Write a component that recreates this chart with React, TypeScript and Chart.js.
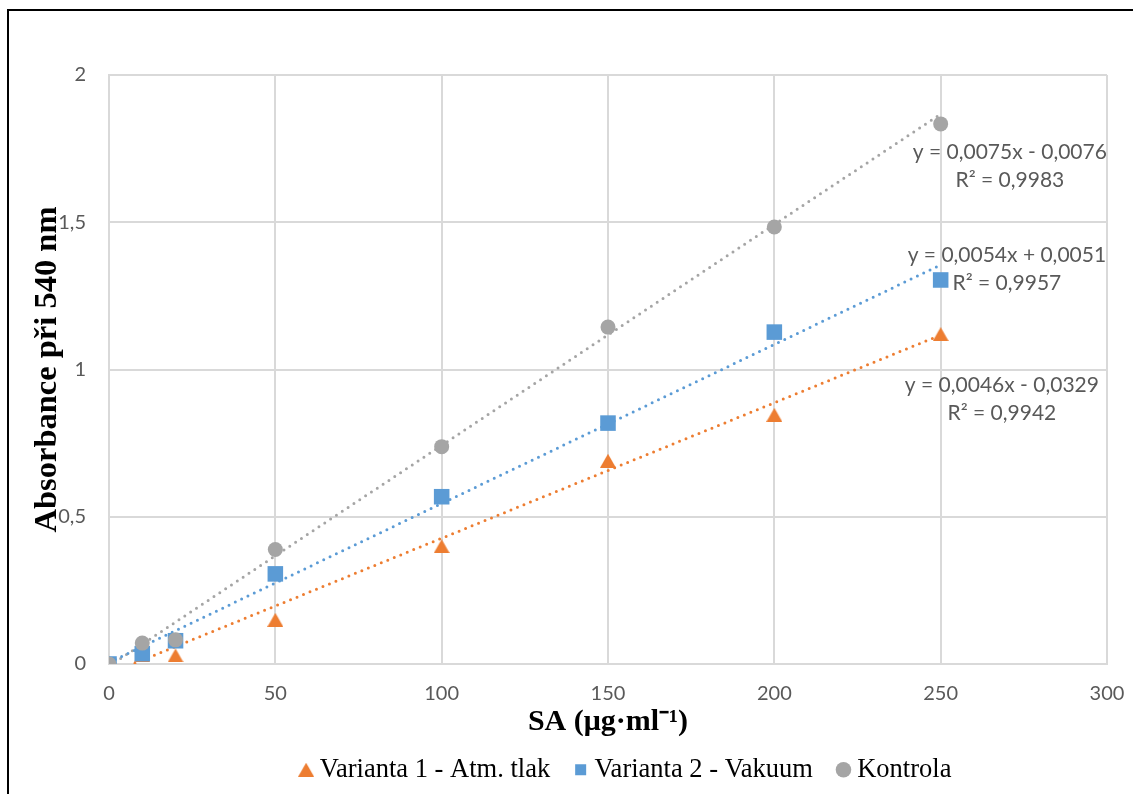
import React, { useEffect, useRef } from 'react';
import { Chart, registerables } from 'chart.js';

Chart.register(...registerables);

// ---- data ----
const concentrations = [0, 10, 20, 50, 100, 150, 200, 250];
const varianta1 = [0, 0.03, 0.029, 0.15, 0.4, 0.69, 0.846, 1.12];
const varianta2 = [0, 0.035, 0.079, 0.306, 0.568, 0.818, 1.127, 1.304];
const kontrola = [0, 0.071, 0.082, 0.389, 0.738, 1.144, 1.484, 1.834];

const seriesNames = ['Varianta 1 - Atm. tlak', 'Varianta 2 - Vakuum', 'Kontrola'];
const seriesColors = ['#ED7D31', '#5B9BD5', '#A5A5A5'];

const trendSlopes = [0.0046, 0.0054, 0.0075];
const trendIntercepts = [-0.0329, 0.0051, -0.0076];
const trendRange = [0, 250];
const trendEquations = ['y = 0,0046x - 0,0329', 'y = 0,0054x + 0,0051', 'y = 0,0075x - 0,0076'];
const trendR2 = ['R² = 0,9942', 'R² = 0,9957', 'R² = 0,9983'];
// label anchors in data units (x, y of the equation line)
const labelAnchorX = [268.4, 269.9, 270.8];
const labelAnchorY = [0.947, 1.389, 1.739];

const xTitle = 'SA (μg·ml⁻¹)';
const yTitle = 'Absorbance při 540 nm';

const TICK_FONT = { family: 'Lato', size: 20 };
const TEXT_GREY = '#595959';
const GRID = '#D9D9D9';

function makeTriangle(color: string, w: number, h: number) {
  const c = document.createElement('canvas');
  c.width = w;
  c.height = h;
  const g = c.getContext('2d')!;
  g.fillStyle = color;
  g.beginPath();
  g.moveTo(w / 2, 0);
  g.lineTo(w, h);
  g.lineTo(0, h);
  g.closePath();
  g.fill();
  return c;
}

const trendLabelPlugin = {
  id: 'trendLabels',
  afterDatasetsDraw(chart: any) {
    const { ctx } = chart;
    const x = chart.scales.x;
    const y = chart.scales.y;
    ctx.save();
    ctx.font = '21px Lato';
    ctx.fillStyle = TEXT_GREY;
    ctx.textAlign = 'center';
    ctx.textBaseline = 'middle';
    for (let i = 0; i < trendEquations.length; i++) {
      const px = x.getPixelForValue(labelAnchorX[i]);
      const py = y.getPixelForValue(labelAnchorY[i]);
      ctx.fillText(trendEquations[i], px, py);
      ctx.fillText(trendR2[i], px, py + 28);
    }
    ctx.restore();
  },
};

const legendShiftPlugin = {
  id: 'legendShift',
  afterLayout(chart: any) {
    const lg = chart.legend;
    if (lg) {
      lg.left = 0;
      lg.right = 1257;
      lg.width = 1257;
    }
  },
};

export default function App() {
  const ref = useRef<HTMLCanvasElement | null>(null);

  useEffect(() => {
    if (!ref.current) return;
    const tri = makeTriangle(seriesColors[0], 16, 14);
    const styles: any[] = [tri, 'rect', 'circle'];
    const radii = [8, 11, 7.5];
    const values = [varianta1, varianta2, kontrola];
    const orders = [3, 2, 1];

    const pointSets: any[] = values.map((vals, i) => ({
      label: seriesNames[i],
      data: concentrations.map((c, j) => ({ x: c, y: vals[j] })),
      pointStyle: styles[i],
      pointRadius: radii[i],
      pointHoverRadius: radii[i],
      backgroundColor: seriesColors[i],
      borderColor: seriesColors[i],
      pointBorderWidth: 0,
      borderWidth: 0,
      showLine: false,
      order: orders[i],
    }));

    const trendSets: any[] = trendSlopes.map((m, i) => ({
      label: 'trend' + i,
      data: trendRange.map((xv) => ({ x: xv, y: m * xv + trendIntercepts[i] })),
      showLine: true,
      pointRadius: 0,
      pointHoverRadius: 0,
      borderColor: seriesColors[i],
      backgroundColor: seriesColors[i],
      borderWidth: 3,
      borderDash: [0, 7],
      borderCapStyle: 'round',
      fill: false,
      order: 10 + i,
    }));

    const chart = new Chart(ref.current, {
      type: 'scatter',
      data: { datasets: [...pointSets, ...trendSets] },
      options: {
        responsive: false,
        animation: false,
        events: [],
        layout: { padding: { left: 24, top: 75, right: 26, bottom: 1 } },
        scales: {
          x: {
            type: 'linear',
            min: 0,
            max: 300,
            ticks: { stepSize: 50, font: TICK_FONT, color: TEXT_GREY, padding: 2 },
            grid: {
              color: GRID,
              lineWidth: 2,
              drawTicks: true,
              tickLength: 16,
              tickColor: 'rgba(0,0,0,0)',
            },
            border: { color: GRID, width: 2 },
            title: {
              display: true,
              text: xTitle,
              color: '#000',
              font: { family: 'Liberation Serif', size: 30, weight: 'bold' },
              padding: { top: 0, bottom: -13.5 },
            },
            afterFit: (s: any) => {
              s.height = 62.5;
            },
          },
          y: {
            type: 'linear',
            min: 0,
            max: 2,
            ticks: {
              stepSize: 0.5,
              font: TICK_FONT,
              color: TEXT_GREY,
              padding: 23,
              callback: (v: any) => String(v).replace('.', ','),
            },
            grid: { color: GRID, lineWidth: 2, drawTicks: false },
            border: { color: GRID, width: 2 },
            title: {
              display: true,
              text: yTitle,
              color: '#000',
              font: { family: 'Liberation Serif', size: 32.5, weight: 'bold' },
              padding: { top: 4, bottom: 0 },
            },
            afterFit: (s: any) => {
              s.width = 85;
            },
          },
        },
        plugins: {
          legend: {
            display: true,
            position: 'bottom',
            labels: {
              usePointStyle: true,
              boxHeight: 11,
              boxWidth: 1,
              padding: 30,
              color: '#000',
              font: { family: 'Liberation Serif', size: 26.5 },
              filter: (item: any) => item.datasetIndex < 3,
              sort: (a: any, b: any) => a.datasetIndex - b.datasetIndex,
            },
          },
          tooltip: { enabled: false },
        },
      } as any,
      plugins: [trendLabelPlugin, legendShiftPlugin],
    });
    return () => chart.destroy();
  }, []);

  return (
    <div
      style={{
        position: 'fixed',
        left: 0,
        top: 0,
        width: 1133,
        height: 794,
        overflow: 'hidden',
        background: '#fff',
      }}
    >
      <div
        style={{
          position: 'absolute',
          left: 7,
          top: 9,
          width: 1240,
          height: 900,
          border: '2px solid #000',
        }}
      />
      <canvas
        ref={ref}
        width={1133}
        height={794}
        style={{ position: 'absolute', left: 0, top: 0, width: 1133, height: 794 }}
      />
    </div>
  );
}
